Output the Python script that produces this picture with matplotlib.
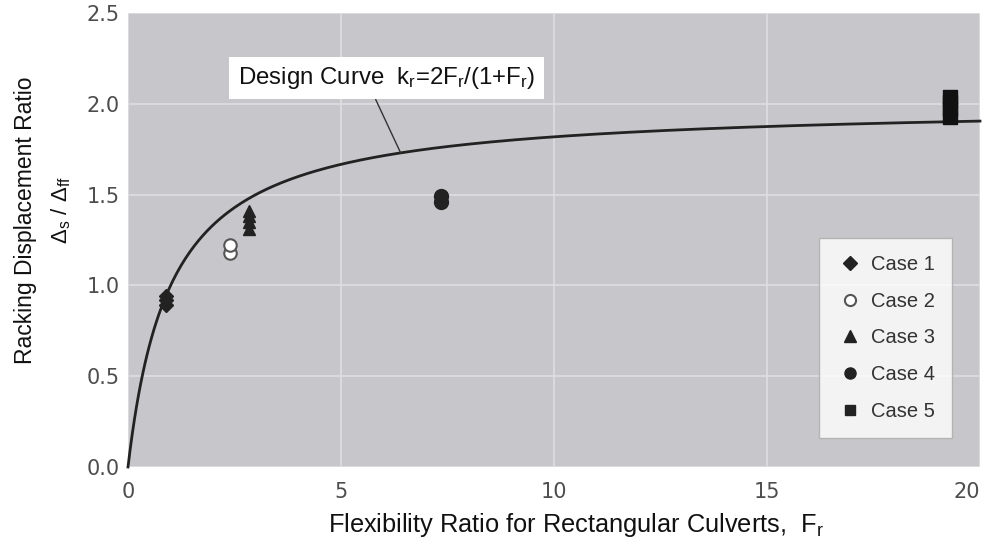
import numpy as np
import matplotlib
matplotlib.use("Agg")
import matplotlib.pyplot as plt
from matplotlib.lines import Line2D

plt.rcParams['font.family'] = ['Liberation Sans', 'DejaVu Sans']
plt.rcParams['mathtext.fontset'] = 'custom'
plt.rcParams['mathtext.rm'] = 'Liberation Sans'
plt.rcParams['mathtext.it'] = 'Liberation Sans'

# Data
case1_x = [0.9, 0.9, 0.9]
case1_y = [0.89, 0.92, 0.94]
case2_x = [2.4, 2.4]
case2_y = [1.18, 1.22]
case3_x = [2.85, 2.85, 2.85, 2.85]
case3_y = [1.31, 1.35, 1.38, 1.41]
case4_x = [7.35, 7.35]
case4_y = [1.46, 1.49]
case5_x = [19.3, 19.3, 19.3, 19.3]
case5_y = [1.93, 1.97, 2.01, 2.04]

# Design curve k_r = 2F_r/(1+F_r) (as stated on the chart)
curve_F = np.linspace(0, 20, 400)
curve_k = 2 * curve_F / (1 + curve_F)

xticks = [0, 5, 10, 15, 20]
yticks = [0.0, 0.5, 1.0, 1.5, 2.0, 2.5]

fig = plt.figure(figsize=(9.89, 5.44), dpi=100)
ax = fig.add_axes([128/989, 1 - 467/544, (980-128)/989, (467-13)/544])
ax.set_facecolor('#c7c7cb')
ax.set_xlim(0, 20)
ax.set_ylim(0, 2.5)
ax.set_xticks(xticks)
ax.set_yticks(yticks)
ax.set_xticklabels([str(t) for t in xticks], family='DejaVu Sans')
ax.set_yticklabels([f"{t:.1f}" for t in yticks], family='DejaVu Sans')
ax.get_xticklabels()[-1].set_horizontalalignment('right')
ax.grid(True, color='#dedee0', linewidth=1.2)
ax.set_axisbelow(True)
for s in ax.spines.values():
    s.set_visible(False)
ax.tick_params(length=0, labelsize=15, labelcolor='#4d4d4d')
ax.tick_params(axis='x', pad=11)
ax.tick_params(axis='y', pad=6)

ax.plot(curve_F, curve_k, color='#222222', linewidth=2.0, zorder=3, clip_on=False)

ax.plot(case1_x, case1_y, 'D', color='#222222', markersize=7, linestyle='none', zorder=4)
ax.plot(case2_x, case2_y, 'o', markerfacecolor='white', markeredgecolor='#555555',
        markeredgewidth=1.5, markersize=9, linestyle='none', zorder=4)
ax.plot(case3_x, case3_y, '^', color='#222222', markersize=8, linestyle='none', zorder=4)
ax.plot(case4_x, case4_y, 'o', color='#222222', markersize=10, linestyle='none', zorder=4)
ax.plot(case5_x, case5_y, 's', color='#111111', markersize=9.5, linestyle='none', zorder=4)

handles = [
    Line2D([], [], marker='D', color='#222222', linestyle='none', markersize=7),
    Line2D([], [], marker='o', markerfacecolor='white', markeredgecolor='#555555',
           markeredgewidth=1.5, linestyle='none', markersize=8),
    Line2D([], [], marker='^', color='#222222', linestyle='none', markersize=8),
    Line2D([], [], marker='o', color='#222222', linestyle='none', markersize=8),
    Line2D([], [], marker='s', color='#222222', linestyle='none', markersize=7),
]
labels = ['Case 1', 'Case 2', 'Case 3', 'Case 4', 'Case 5']
leg = ax.legend(handles, labels, loc='lower right', bbox_to_anchor=(0.967, 0.064),
                borderaxespad=0.0,
                fontsize=14.5, frameon=True, fancybox=False, edgecolor='#aaaaaa',
                handletextpad=0.4, labelspacing=0.88, borderpad=0.85, handlelength=1.3,
                labelcolor='#333333')
leg.get_frame().set_linewidth(1.0)

# Design curve annotation
ax.annotate(r'Design Curve  k$_\mathrm{r}$=2F$_\mathrm{r}$/(1+F$_\mathrm{r}$)',
            xy=(6.4, 2 * 6.4 / 7.4), xytext=(2.58, 2.142),
            fontsize=17.3, color='#111111', ha='left', va='center',
            bbox=dict(boxstyle='square,pad=0.35', facecolor='white', edgecolor='none'),
            arrowprops=dict(arrowstyle='-', color='#333333', linewidth=1.0,
                            shrinkA=0, shrinkB=0, relpos=(0.45, 0.0)))

fig.text(26/989, 1 - 220/544, 'Racking Displacement Ratio', rotation=90,
         ha='center', va='center', fontsize=16.5, color='#111111')
fig.text(61/989, 1 - 210/544, r'$\Delta_\mathrm{s}$ / $\Delta_\mathrm{ff}$', rotation=90,
         ha='center', va='center', fontsize=16, color='#111111')
fig.text(576/989, 1 - 525/544, r'Flexibility Ratio for Rectangular Culverts,  F$_\mathrm{r}$',
         ha='center', va='center', fontsize=18.3, color='#111111')

fig.savefig('out.png', dpi=100)
